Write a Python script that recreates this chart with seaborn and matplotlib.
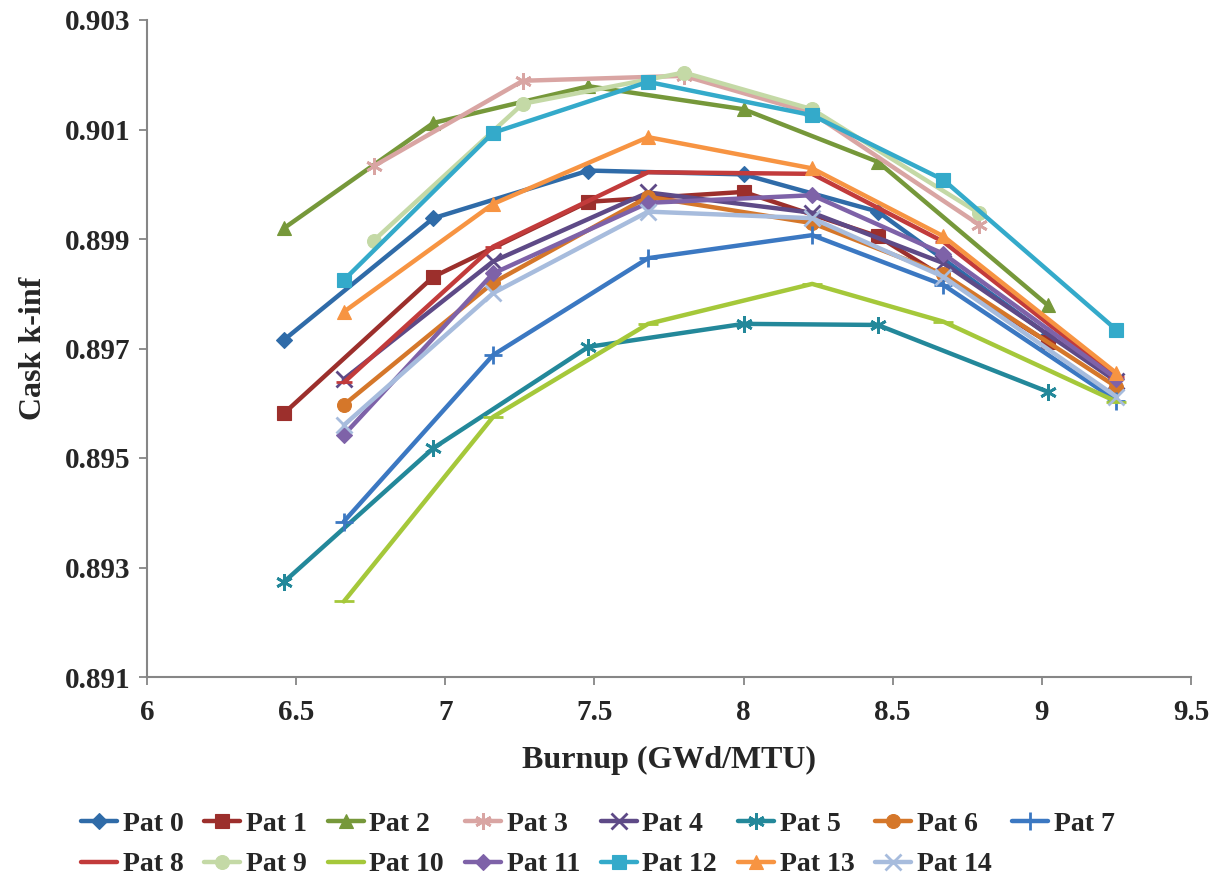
import matplotlib
matplotlib.use("Agg")
import matplotlib.pyplot as plt
import seaborn as sns
import numpy as np
import pandas as pd

# ---- data ----
x_a = [6.46, 6.96, 7.48, 8.00, 8.45, 9.02]          # Pat 0,1,2,5
x_b = [6.76, 7.26, 7.80, 8.23, 8.79]                # Pat 3,9
x_c = [6.66, 7.16, 7.68, 8.23, 8.67, 9.25]          # others

pat0 = [0.89716, 0.89938, 0.90025, 0.90018, 0.89950, 0.89725]
pat1 = [0.89582, 0.89831, 0.89968, 0.89986, 0.89905, 0.89712]
pat2 = [0.89920, 0.90112, 0.90179, 0.90137, 0.90041, 0.89779]
pat3 = [0.90033, 0.90189, 0.90198, 0.90130, 0.89926]
pat4 = [0.89644, 0.89859, 0.89985, 0.89948, 0.89856, 0.89640]
pat5 = [0.89274, 0.89518, 0.89703, 0.89745, 0.89743, 0.89621]
pat6 = [0.89597, 0.89820, 0.89977, 0.89929, 0.89836, 0.89630]
pat7 = [0.89384, 0.89688, 0.89865, 0.89907, 0.89816, 0.89605]
pat8 = [0.89638, 0.89886, 0.90022, 0.90019, 0.89895, 0.89648]
pat9 = [0.89897, 0.90147, 0.90204, 0.90137, 0.89947]
pat10 = [0.89238, 0.89575, 0.89745, 0.89818, 0.89749, 0.89603]
pat11 = [0.89542, 0.89837, 0.89966, 0.89980, 0.89873, 0.89645]
pat12 = [0.89825, 0.90094, 0.90187, 0.90126, 0.90008, 0.89734]
pat13 = [0.89767, 0.89964, 0.90086, 0.90029, 0.89905, 0.89655]
pat14 = [0.89560, 0.89801, 0.89950, 0.89938, 0.89831, 0.89612]

names = [f"Pat {i}" for i in range(15)]
xs_list = [x_a, x_a, x_a, x_b, x_c, x_a, x_c, x_c, x_c, x_b, x_c, x_c, x_c, x_c, x_c]
ys_list = [pat0, pat1, pat2, pat3, pat4, pat5, pat6, pat7, pat8, pat9,
           pat10, pat11, pat12, pat13, pat14]

colors = ["#2F6BA8", "#9C2F2C", "#76983A", "#D9A5A3", "#5E4A87",
          "#23889A", "#D5772A", "#3B78C2", "#C23B3B", "#C4D9A6",
          "#A5C83A", "#7E62A8", "#34AACA", "#F79442", "#A7BCDD"]
markers = ["D", "s", "^", (6, 2, 0), "x", (6, 2, 0), "o", "+", "_", "o",
           "_", "D", "s", "^", "x"]
msizes = [8, 10, 10, 12, 11, 12, 10, 13, 12, 10, 14, 8, 10, 10, 11]

x_ticks = [6, 6.5, 7, 7.5, 8, 8.5, 9, 9.5]
y_ticks = [0.891, 0.893, 0.895, 0.897, 0.899, 0.901, 0.903]

# ---- styling ----
sns.set_theme(style="white")
plt.rcParams["font.family"] = ["Liberation Serif", "DejaVu Serif"]
plt.rcParams["font.weight"] = "bold"

fig = plt.figure(figsize=(12.24, 8.84), dpi=100)
ax = fig.add_axes([147 / 1224, 1 - 677 / 884, (1191 - 147) / 1224, (677 - 20) / 884])

for name, xs, ys, c, m, ms in zip(names, xs_list, ys_list, colors, markers, msizes):
    df = pd.DataFrame({"burnup": xs, "k": ys})
    lw_m = 2.0 if m in ("x", "+", "_") or isinstance(m, tuple) else 0.8
    sns.lineplot(data=df, x="burnup", y="k", ax=ax, color=c, linewidth=3.2,
                 marker=m, markersize=ms, markeredgecolor=c,
                 markeredgewidth=lw_m, label=name, sort=False)

leg = ax.get_legend()
if leg is not None:
    leg.remove()

ax.set_xlim(6, 9.5)
ax.set_ylim(0.891, 0.903)
ax.set_xticks(x_ticks)
ax.set_yticks(y_ticks)
ax.set_xticklabels([f"{v:g}" for v in x_ticks])
ax.set_yticklabels([f"{v:.3f}" for v in y_ticks])
ax.tick_params(axis="both", labelsize=21, direction="out", length=6,
               width=1.3, color="#868686", bottom=True, left=True)
ax.tick_params(axis="x", pad=10)
ax.tick_params(axis="y", pad=6)
for lab in ax.get_xticklabels() + ax.get_yticklabels():
    lab.set_fontweight("bold")

for s in ["top", "right"]:
    ax.spines[s].set_visible(False)
for s in ["left", "bottom"]:
    ax.spines[s].set_color("#868686")
    ax.spines[s].set_linewidth(1.5)
ax.grid(False)

ax.set_xlabel("Burnup (GWd/MTU)", fontsize=23, fontweight="bold", labelpad=14)
ax.set_ylabel("Cask k-inf", fontsize=23, fontweight="bold", labelpad=12)

handles, labels = ax.get_legend_handles_labels()
# row-major ordering: columns hold (Pat j, Pat j+8)
order = []
for j in range(8):
    order.append(j)
    if j + 8 < len(handles):
        order.append(j + 8)
fig.legend([handles[i] for i in order], [labels[i] for i in order],
           ncol=8, loc="upper left",
           bbox_to_anchor=(70 / 1224, 1 - 800 / 884), frameon=False,
           prop={"size": 20, "weight": "bold"}, handlelength=1.3,
           handletextpad=0.2, columnspacing=0.75, labelspacing=0.55,
           borderaxespad=0)

fig.savefig("out.png", dpi=100)
